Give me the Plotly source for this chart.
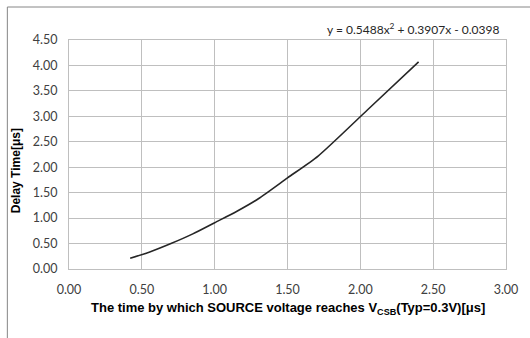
import plotly.graph_objects as go

# Data
source_time_us = [0.42, 0.55, 0.70, 0.85, 1.00, 1.15, 1.30, 1.50, 1.71, 2.05, 2.40]
delay_time_us = [0.21, 0.33, 0.50, 0.69, 0.91, 1.13, 1.38, 1.79, 2.22, 3.13, 4.07]

x_ticks = [0.0, 0.5, 1.0, 1.5, 2.0, 2.5, 3.0]
y_ticks = [0.0, 0.5, 1.0, 1.5, 2.0, 2.5, 3.0, 3.5, 4.0, 4.5]

equation_text = "y = 0.5488x<sup>2</sup> + 0.3907x - 0.0398"
x_title = "The time by which SOURCE voltage reaches V<sub>CSB</sub>(Typ=0.3V)[μs]"
y_title = "Delay Time[μs]"

tick_font = dict(family="Lato, Open Sans, sans-serif", size=12.5, color="#404040")
eq_font = dict(family="Lato, Open Sans, sans-serif", size=12, color="#262626")

fig = go.Figure()
fig.add_trace(go.Scatter(
    x=source_time_us, y=delay_time_us, mode="lines",
    line=dict(color="#262626", width=1.6, shape="spline", smoothing=0.6),
    showlegend=False, hoverinfo="skip",
))

fig.update_layout(
    width=530, height=338,
    margin=dict(l=69, r=18, t=40, b=69),
    paper_bgcolor="white", plot_bgcolor="white",
    xaxis=dict(
        range=[0, 3], tickvals=x_ticks,
        ticktext=[f"{v:.2f}" for v in x_ticks],
        showgrid=True, gridcolor="#BFBFBF", gridwidth=1,
        zeroline=False, showline=True, linecolor="#BFBFBF", linewidth=1,
        mirror=True, ticks="", ticklabelstandoff=9,
        tickfont=tick_font, fixedrange=True,
    ),
    yaxis=dict(
        range=[0, 4.5], tickvals=y_ticks,
        ticktext=[f"{v:.2f}" for v in y_ticks],
        showgrid=True, gridcolor="#BFBFBF", gridwidth=1,
        zeroline=False, showline=True, linecolor="#BFBFBF", linewidth=1,
        mirror=True, ticks="", ticklabelstandoff=8,
        tickfont=tick_font, fixedrange=True,
    ),
    annotations=[
        dict(text=equation_text, xref="paper", yref="paper",
             x=(507 - 69) / 443, y=(269 - 29) / 229, xanchor="right", yanchor="middle",
             showarrow=False, font=eq_font),
        dict(text="<b>" + x_title + "</b>", xref="paper", yref="paper",
             x=(291 - 69) / 443, y=(269 - 308) / 229, xanchor="center", yanchor="middle",
             showarrow=False,
             font=dict(family="Liberation Sans, Arial, sans-serif", size=13, color="#000000")),
        dict(text="<b>" + y_title + "</b>", xref="paper", yref="paper",
             x=(15 - 69) / 443, y=(269 - 170.5) / 229, xanchor="center", yanchor="middle",
             textangle=-90, showarrow=False,
             font=dict(family="Liberation Sans, Arial, sans-serif", size=12, color="#000000")),
    ],
    shapes=[
        dict(type="line", xref="paper", yref="paper",
             x0=(6.5 - 69) / 443, x1=(6.5 - 69) / 443, y0=(269 - 7) / 229, y1=-0.5,
             line=dict(color="#868686", width=1)),
        dict(type="line", xref="paper", yref="paper",
             x0=(6.5 - 69) / 443, x1=1.2, y0=(269 - 7) / 229, y1=(269 - 7) / 229,
             line=dict(color="#868686", width=1)),
    ],
)

fig.write_html("out.html")
